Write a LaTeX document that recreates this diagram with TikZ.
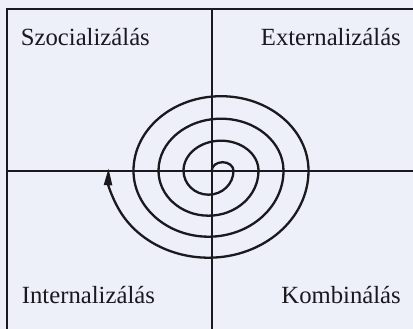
\documentclass[tikz,border=0pt]{standalone}
\usepackage{fontspec}
\setmainfont{Liberation Serif}
\usepackage{tikz}
\usepackage{xcolor}
\usetikzlibrary{arrows.meta}

\definecolor{paper}{RGB}{237,239,249}
\definecolor{ink}{RGB}{25,25,30}

\tikzset{
  quad/.style={inner sep=0pt,font=\fontsize{24.7}{28}\selectfont,text=ink},
  rule/.style={draw=ink,line width=2.3pt},
}

\begin{document}
\begin{tikzpicture}[x=1pt,y=1pt]
    % Paper
    \fill[paper] (0,0) rectangle (413,329);
    \useasboundingbox (0,0) rectangle (413,329);

    % Frame and axes
    \coordinate (mid) at (211.7,158.3);
    \draw[rule] (7,0) -- (7,320) -- (413,320);
    \draw[rule] (7,158.3) -- (413,158.3);
    \draw[rule] (211.7,0) -- (211.7,320);

    % Quadrant labels
    \node[quad,anchor=base west] (szoc) at (20.7,283.3) {Szocializálás};
    \node[quad,anchor=base east] (ext) at (401,283.3) {Externalizálás};
    \node[quad,anchor=base west] (int) at (21.7,25.7) {Internalizálás};
    \node[quad,anchor=base east] (komb) at (401,25.7) {Kombinálás};

    % Spiral
    \draw[rule,-{Triangle[length=17pt,width=8pt]}] (mid)
        arc[start angle=180,end angle=0,x radius=10.9,y radius=8.5]
        arc[start angle=0,end angle=-180,x radius=25,y radius=24]
        arc[start angle=180,end angle=0,x radius=37.5,y radius=30]
        arc[start angle=0,end angle=-180,x radius=50,y radius=45]
        arc[start angle=180,end angle=0,x radius=62.5,y radius=52]
        arc[start angle=0,end angle=-180,x radius=75,y radius=66]
        arc[start angle=180,end angle=0,x radius=87.5,y radius=74.5]
        arc[start angle=0,end angle=-181.6,x radius=100,y radius=87];
\end{tikzpicture}
\end{document}
